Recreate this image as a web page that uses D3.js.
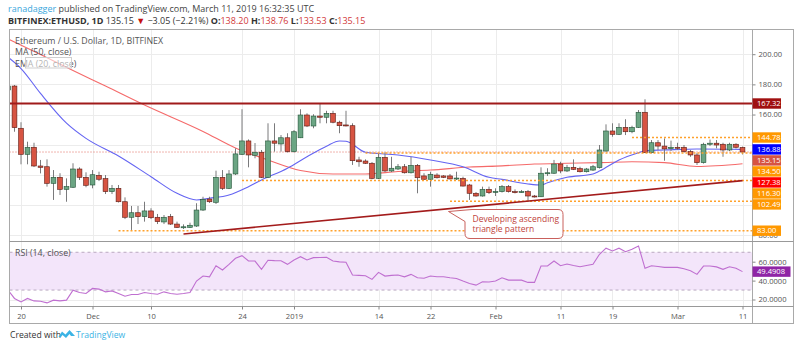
<!DOCTYPE html>
<html><head><meta charset="utf-8">
<script src="https://cdn.jsdelivr.net/npm/d3@7"></script>
<style>
body{margin:0;background:#fff}
svg{display:block}
text{font-family:"Open Sans",sans-serif}
</style></head>
<body><svg id="c" width="800" height="340"></svg>
<script>
// ---------------- DATA ----------------
const startDate = "2018-11-18"; // first candle (one candle per day)
const open  = [176.3,178.9,150.9,133.6,138.3,125.9,125.4,114.4,118.4,110.4,111.8,123.9,118.4,113.3,119.7,117.5,108.9,111.1,102.2,91.9,94.9,92.3,96.1,91.9,88.8,92.3,87.4,85.2,85.2,86.1,96.7,104.0,101.8,118.4,111.1,120.6,133.6,142.5,133.0,135.0,118.4,142.5,140.5,144.6,135.4,144.6,159.7,152.4,159.0,158.2,160.8,154.9,153.1,152.6,129.9,129.2,127.7,117.7,131.6,122.6,123.9,125.4,121.4,126.3,119.3,117.1,119.9,119.3,119.3,117.7,117.7,113.3,107.8,106.0,110.4,108.9,108.9,112.2,108.9,108.6,108.9,106.0,105.5,121.1,121.1,127.2,122.6,125.0,124.1,122.1,123.2,124.8,135.8,149.1,146.9,151.5,148.6,151.5,161.5,134.7,141.3,139.1,137.4,138.3,138.3,135.4,133.2,128.1,140.3,141.0,140.3,136.5,140.3,138.20];
const high  = [180.2,179.6,154.9,142.0,141.3,129.9,130.3,123.2,121.1,117.7,127.7,125.0,121.7,123.2,122.1,119.9,113.3,113.3,105.1,99.4,99.4,102.2,97.9,94.1,93.4,94.1,89.0,87.2,88.3,101.2,105.5,105.5,122.8,123.2,123.2,137.6,163.5,143.5,141.1,136.5,154.2,154.2,146.4,147.6,149.7,163.5,160.8,160.2,167.0,162.5,162.5,155.9,162.5,154.2,132.0,130.3,128.5,134.3,135.0,132.0,127.2,127.2,132.0,127.2,121.1,122.1,121.1,119.9,120.6,122.1,118.8,114.0,108.6,112.2,112.2,111.1,113.3,113.3,110.4,110.0,110.0,106.7,125.0,124.4,129.9,128.7,126.6,130.3,125.4,124.6,126.6,139.8,153.5,154.2,154.2,156.9,152.6,163.0,170.1,143.1,143.1,144.2,142.7,141.3,139.8,136.5,134.5,141.3,143.4,143.1,141.3,141.3,141.0,138.76];
const low   = [175.0,148.6,127.0,127.0,125.2,121.0,112.2,103.4,106.7,102.2,111.3,116.6,111.8,111.1,115.9,107.3,107.3,101.7,90.7,83.5,87.4,89.0,90.7,87.4,87.4,86.8,84.8,84.1,84.8,85.5,96.1,101.4,100.7,110.0,110.6,119.9,133.2,125.0,131.0,117.9,117.9,135.4,135.4,134.8,134.8,144.4,151.7,150.9,154.2,154.2,154.2,147.6,152.1,126.6,125.4,127.2,117.1,117.3,121.9,121.9,123.2,120.9,120.9,107.8,116.6,112.2,117.6,117.9,117.0,116.6,112.3,103.4,105.5,105.6,107.3,106.0,108.3,108.3,107.7,108.0,102.2,105.0,105.3,119.3,120.6,121.1,121.9,123.2,121.6,121.6,122.6,124.2,135.4,145.3,146.4,146.4,147.6,151.1,134.5,134.2,136.5,129.4,135.8,136.5,134.8,132.0,126.6,127.5,139.1,137.6,132.0,135.8,137.5,133.53];
const close = [178.9,151.3,133.6,138.3,125.9,125.0,114.4,118.4,110.4,112.2,123.9,118.4,113.1,120.1,117.1,108.9,111.1,102.2,91.9,94.9,92.3,96.1,91.6,89.0,91.9,87.4,85.2,85.6,86.6,96.7,103.8,102.2,118.4,111.1,120.6,133.9,142.5,133.2,135.0,118.4,142.5,141.0,144.6,135.4,148.6,159.7,152.4,159.0,158.2,160.8,154.9,152.6,152.6,129.4,128.7,127.7,117.7,131.6,122.6,124.4,125.4,121.4,126.3,118.1,117.1,120.4,118.1,118.4,117.3,117.9,112.6,107.8,106.0,110.4,108.2,109.0,112.2,108.9,108.2,108.9,106.0,105.5,121.1,121.4,127.2,122.6,124.8,123.7,122.1,123.9,125.4,136.5,149.1,146.9,151.5,148.6,151.5,161.5,134.7,141.3,139.1,137.2,138.3,138.2,135.4,133.2,128.1,140.3,141.0,139.8,136.5,140.3,138.3,135.15];
const rsi   = [30,21.1,17.4,21.1,18.5,18.2,16.4,19.3,18.5,19.3,29.9,27.4,26.4,31.7,31.0,28.1,29.1,26.4,23.5,25.3,25.3,27.4,26.4,25.6,28.1,26.4,25.6,26.4,27.4,39.5,44.8,44.0,55.7,51.2,57.2,63.6,66.4,60.7,60.7,51.9,61.5,61.1,61.0,57.2,61.8,65.3,61.8,64.3,64.5,64.7,60.7,59.8,59.4,45.9,45.5,45.1,41.3,48.7,44.8,45.5,45.9,44.0,46.6,43.0,42.5,44.8,44.0,44.0,43.0,42.3,39.5,37.0,35.2,38.7,38.5,39.5,43.0,40.5,40.5,40.5,38.1,38.1,55.4,55.4,60.7,55.7,57.6,56.0,54.7,56.0,57.2,67.9,74.3,71.4,74.3,70.6,73.2,76.7,53.0,55.7,55.0,54.0,54.0,54.0,52.5,50.5,46.6,55.4,55.4,54.5,51.9,54.7,53.0,49.4908];

const maDates  = ["2018-11-18","2018-11-23","2018-11-28","2018-12-03","2018-12-09","2018-12-18","2018-12-23","2018-12-28","2019-01-02","2019-01-07","2019-01-12","2019-01-17","2019-01-22","2019-01-28","2019-02-02","2019-02-07","2019-02-12","2019-02-17","2019-02-22","2019-02-27","2019-03-04","2019-03-11"];
const maValues = [210.1,199.8,189.2,178.9,166.3,148.8,137.8,129.9,122.9,120.6,120.6,122.2,123.2,125.2,126.0,127.2,127.7,128.1,128.7,128.1,125.6,127.38];
const emaDates  = ["2018-11-18","2018-11-20","2018-11-23","2018-11-27","2018-11-30","2018-12-05","2018-12-10","2018-12-14","2018-12-17","2018-12-19","2018-12-22","2018-12-25","2018-12-27","2018-12-31","2019-01-03","2019-01-06","2019-01-08","2019-01-09","2019-01-12","2019-01-17","2019-01-22","2019-01-27","2019-01-31","2019-02-02","2019-02-06","2019-02-08","2019-02-09","2019-02-12","2019-02-16","2019-02-17","2019-02-20","2019-02-23","2019-02-24","2019-02-27","2019-03-04","2019-03-11"];
const emaValues = [198.0,190.5,174.0,154.3,144.2,132.5,118.8,107.8,103.4,104.5,106.7,112.2,116.6,124.4,132.0,139.0,142.5,142.3,135.0,133.2,129.9,125.4,118.4,117.0,114.0,113.3,114.8,118.4,120.6,122.5,129.9,134.7,136.0,136.5,137.2,136.88];

const resistance = 167.32;
const levelValues = [144.78,134.50,116.30,102.49,83.00];
const levelStarts = ["2019-02-22","2019-01-12","2018-12-24","2019-01-25","2018-12-05"];
const trendDates  = ["2018-12-15","2019-03-11"];
const trendValues = [80.8,116.2];
const lastPrice = 135.15;

const labelValues = [167.32,144.78,136.88,135.15,134.50,127.38,116.30,102.49,83.00];
const labelColors = ["#a01010","#ff9800","#0000ff","#d75442","#ff9800","#ff0000","#ff9800","#ff9800","#ff9800"];

const priceTicks = [80,100,120,140,160,180,200];
const rsiTicks = [20,40,60];
const timeTicks  = ["2018-11-20","2018-12-01","2018-12-10","2018-12-24","2019-01-01","2019-01-14","2019-01-22","2019-02-01","2019-02-11","2019-02-19","2019-03-01","2019-03-11"];
const timeLabels = ["20","Dec","10","24","2019","14","22","Feb","11","19","Mar","11"];
const annotationLines = ["Developing ascending","triangle pattern"];

// ---------------- LAYOUT ----------------
const parse = d3.utcParse("%Y-%m-%d");
const svg = d3.select("#c");
const L = 9.5, R = 752.5, OR = 793.5, T = 29.5, MB = 241.5, RB = 306.5, AB = 323.5;

const x  = d3.scaleUtc().domain([parse("2018-11-20"), parse("2019-03-11")]).range([21, 742.5]);
const y  = d3.scaleLinear().domain([83, 167.32]).range([230.7, 103.5]);
const yr = d3.scaleLinear().domain([20, 60]).range([299.5, 261.7]);
const days = open.map((_, i) => d3.utcDay.offset(parse(startDate), i));

const defs = svg.append("defs");
defs.append("clipPath").attr("id","cm").append("rect").attr("x",L+0.5).attr("y",T+0.5).attr("width",R-L-1).attr("height",MB-T-1);
defs.append("clipPath").attr("id","cr").append("rect").attr("x",L+0.5).attr("y",MB+0.5).attr("width",R-L-1).attr("height",RB-MB-1);

// header
const h1 = svg.append("text").attr("x",8).attr("y",11.5).attr("font-size",9).attr("fill","#444");
h1.append("tspan").attr("fill","#3ba7dd").text("ranadagger");
h1.append("tspan").text(" published on TradingView.com, March 11, 2019 16:32:35 UTC");
const h2 = svg.append("text").attr("x",8).attr("y",23.5).attr("font-size",9).attr("fill","#333");
h2.append("tspan").attr("font-weight","bold").text("BITFINEX:ETHUSD, 1D");
h2.append("tspan").text(" 135.15 ");
h2.append("tspan").attr("fill","#c41010").text("▼");
h2.append("tspan").text(" −3.05 (−2.21%) ");
[["O:","138.20"],["H:","138.76"],["L:","133.53"],["C:","135.15"]].forEach(([k,v],i)=>{
  h2.append("tspan").attr("font-weight","bold").text((i?" ":"")+k);
  h2.append("tspan").attr("fill","#d23a3a").text(v);
});

// grid
const grid = svg.append("g").attr("stroke","#ececec").attr("stroke-width",1);
timeTicks.forEach(t=>{
  const xx = Math.round(x(parse(t)))+0.5;
  grid.append("line").attr("x1",xx).attr("x2",xx).attr("y1",T).attr("y2",RB);
});
priceTicks.forEach(p=>{
  const yy = Math.round(y(p))+0.5;
  if (yy>T && yy<MB) grid.append("line").attr("x1",L).attr("x2",R).attr("y1",yy).attr("y2",yy);
});
rsiTicks.forEach(v=>{
  const yy = Math.round(yr(v))+0.5;
  grid.append("line").attr("x1",L).attr("x2",R).attr("y1",yy).attr("y2",yy);
});

// ---------- main pane ----------
const gm = svg.append("g").attr("clip-path","url(#cm)");

// last price dotted line
gm.append("line").attr("x1",L).attr("x2",R).attr("y1",y(lastPrice)).attr("y2",y(lastPrice))
  .attr("stroke","#e06a5e").attr("stroke-width",1).attr("stroke-dasharray","1,2");

// MA / EMA
const lineGen = d3.line().x(d=>x(d[0])).y(d=>y(d[1])).curve(d3.curveMonotoneX);
gm.append("path").attr("d",lineGen(maDates.map((d,i)=>[parse(d),maValues[i]])))
  .attr("fill","none").attr("stroke","#f56a6a").attr("stroke-width",1.1);
gm.append("path").attr("d",lineGen(emaDates.map((d,i)=>[parse(d),emaValues[i]])))
  .attr("fill","none").attr("stroke","#6464f2").attr("stroke-width",1.1);

// candles
const bw = 4.8;
const cg = gm.append("g");
days.forEach((d,i)=>{
  const cx = x(d), up = close[i] >= open[i];
  cg.append("line").attr("x1",cx).attr("x2",cx).attr("y1",y(high[i])).attr("y2",y(low[i]))
    .attr("stroke","#7a7a7c").attr("stroke-width",1);
  const top = y(Math.max(open[i],close[i])), bot = y(Math.min(open[i],close[i]));
  cg.append("rect").attr("x",cx-bw/2).attr("y",top).attr("width",bw).attr("height",Math.max(1,bot-top))
    .attr("fill",up?"#6ba583":"#d75442").attr("stroke",up?"#225437":"#5b1a13").attr("stroke-width",0.6);
});

// horizontal support/resistance levels
gm.append("line").attr("x1",L).attr("x2",R).attr("y1",y(resistance)).attr("y2",y(resistance))
  .attr("stroke","#a01a1a").attr("stroke-width",1.8);
levelValues.forEach((v,i)=>{
  gm.append("line").attr("x1",x(parse(levelStarts[i]))).attr("x2",R).attr("y1",y(v)).attr("y2",y(v))
    .attr("stroke","#ffa12b").attr("stroke-width",1.6).attr("stroke-dasharray","2,2");
});

// ascending trend line
gm.append("line").attr("x1",x(parse(trendDates[0]))).attr("y1",y(trendValues[0]))
  .attr("x2",x(parse(trendDates[1]))).attr("y2",y(trendValues[1]))
  .attr("stroke","#a31b1b").attr("stroke-width",1.6);

// annotation callout
const bx0=465, bx1=563, by0=209.5, by1=238.5, rr=5;
gm.append("path").attr("d",
  `M${bx0+rr+2},${by0} H${bx1-rr} Q${bx1},${by0} ${bx1},${by0+rr} V${by1-rr} Q${bx1},${by1} ${bx1-rr},${by1} H${bx0+rr} Q${bx0},${by1} ${bx0},${by1-rr} V${by0+12} L448.5,211.5 Z`)
  .attr("fill","#fff").attr("stroke","#c9605c").attr("stroke-width",1);
annotationLines.forEach((t,i)=>{
  gm.append("text").attr("x",472.5).attr("y",222.3+i*9.6).attr("font-size",8.5)
    .attr("font-family","'Liberation Sans',Arial,sans-serif").attr("fill","#c0433c").text(t);
});

// legend
const lg = svg.append("g").attr("font-size",8.8).attr("fill","#555");
lg.append("text").attr("x",15).attr("y",43.5).text("Ethereum / U.S. Dollar, 1D, BITFINEX");
lg.append("text").attr("x",15).attr("y",55).text("MA (50, close)");
lg.append("text").attr("x",15).attr("y",66.5).text("EMA (20, close)");
svg.append("rect").attr("x",25.5).attr("y",57.5).attr("width",46).attr("height",10.5)
  .attr("fill","rgba(255,255,255,0.55)").attr("stroke","#cfcfcf");

// ---------- RSI pane ----------
const gr = svg.append("g").attr("clip-path","url(#cr)");
gr.append("rect").attr("x",L).attr("y",yr(70)).attr("width",R-L).attr("height",yr(30)-yr(70)).attr("fill","#f3e5fa");
[70,30].forEach(v=>gr.append("line").attr("x1",L).attr("x2",R).attr("y1",yr(v)).attr("y2",yr(v))
  .attr("stroke","#b9a8c0").attr("stroke-dasharray","3,3"));
gr.append("path").attr("d",d3.line().x((d,i)=>x(days[i])).y(d=>yr(d))(rsi))
  .attr("fill","none").attr("stroke","#bf6fd0").attr("stroke-width",1.1);
svg.append("text").attr("x",15).attr("y",256).attr("font-size",8.8).attr("fill","#555").text("RSI (14, close)");

// ---------- frame ----------
const fr = svg.append("g").attr("fill","none").attr("stroke","#a9a9a9");
fr.append("rect").attr("x",L).attr("y",T).attr("width",OR-L).attr("height",AB-T);
fr.append("line").attr("x1",R).attr("x2",R).attr("y1",T).attr("y2",AB);
fr.append("line").attr("x1",L).attr("x2",OR).attr("y1",MB).attr("y2",MB).attr("stroke","#999");
fr.append("line").attr("x1",L).attr("x2",OR).attr("y1",RB).attr("y2",RB).attr("stroke","#999");

// ---------- price labels (stacked) ----------
const order = labelValues.map((v,i)=>i).sort((a,b)=>labelValues[b]-labelValues[a]);
let prev = -Infinity;
const placed = [];
order.forEach(i=>{
  const yy = Math.max(y(labelValues[i]), prev + 11);
  prev = yy;
  placed.push({i, yy});
});

// ---------- axes ----------
const axStyle = g => {
  g.select(".domain").remove();
  g.selectAll(".tick line").attr("stroke","#888");
  g.selectAll(".tick text").attr("fill","#555").attr("font-size",7.6).attr("font-family","'Open Sans',sans-serif");
};
// hide price tick labels that sit under a coloured label (except the lowest, which peeks out)
const visTicks = priceTicks.filter(p => p === priceTicks[0] || placed.every(q => Math.abs(q.yy - y(p)) > 9));
svg.append("g").attr("transform",`translate(${R},0)`)
  .call(d3.axisRight(y).tickValues(visTicks).tickFormat(d3.format(".2f")).tickSize(3).tickPadding(3))
  .call(axStyle);
svg.append("g").attr("transform",`translate(${R},0)`)
  .call(d3.axisRight(yr).tickValues(rsiTicks).tickFormat(d3.format(".4f")).tickSize(3).tickPadding(3))
  .call(axStyle);
svg.append("g").attr("transform",`translate(0,${RB})`)
  .call(d3.axisBottom(x).tickValues(timeTicks.map(parse)).tickFormat((d,i)=>timeLabels[i]).tickSize(3).tickPadding(4))
  .call(axStyle);

placed.forEach(({i, yy})=>{
  svg.append("rect").attr("x",R).attr("y",yy-5.2).attr("width",28.5).attr("height",10.4).attr("fill",labelColors[i]);
  svg.append("text").attr("x",R+4.5).attr("y",yy).attr("dy","0.35em").attr("font-size",7.6)
    .attr("fill","#fff").text(d3.format(".2f")(labelValues[i]));
});
const rl = rsi[rsi.length-1];
svg.append("rect").attr("x",R).attr("y",yr(rl)-5.2).attr("width",38).attr("height",10.4).attr("fill","#8f25a6");
svg.append("text").attr("x",R+4.5).attr("y",yr(rl)).attr("dy","0.35em").attr("font-size",7.6)
  .attr("fill","#fff").text(d3.format(".4f")(rl));

// ---------- footer ----------
svg.append("text").attr("x",10).attr("y",338).attr("font-size",8.6).attr("fill","#333").text("Created with");
svg.append("path").attr("d","M58.5,337 L62,331.5 L65.5,334.5 L69.5,330 L75,336 L71,336 L69.5,334 L66,338 L62.5,335 L61,337 Z").attr("fill","#3bb3e4");
svg.append("text").attr("x",76).attr("y",338).attr("font-size",8.6).attr("fill","#3bb3e4").text("TradingView");
</script>
</body></html>
